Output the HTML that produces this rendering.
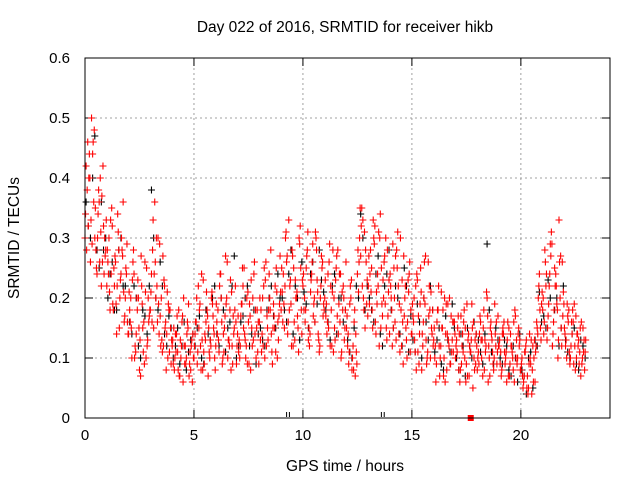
<!DOCTYPE html>
<html><head><meta charset="utf-8"><style>
body{margin:0;background:#fff}
svg{font-family:"Liberation Sans",sans-serif;display:block}
</style></head><body>
<svg id="chart" width="640" height="480" xmlns="http://www.w3.org/2000/svg">
<text x="345" y="32" font-size="15.5" text-anchor="middle">Day 022 of 2016, SRMTID for receiver hikb</text>
<text transform="translate(19,238) rotate(-90)" font-size="15.5" text-anchor="middle">SRMTID / TECUs</text>
<text x="345" y="471" font-size="15.5" text-anchor="middle">GPS time / hours</text>
<g id="grid"></g>
<g id="ticks"></g>
<g id="black"></g>
<g id="red"></g>
<rect x="85" y="58" width="525" height="360" fill="none" stroke="#000" stroke-width="1"/>
</svg>
<script>
const xTicks=[0,5,10,15,20];
const yTicks=[0,0.1,0.2,0.3,0.4,0.5,0.6];
const yTickLabels=["0","0.1","0.2","0.3","0.4","0.5","0.6"];
const redA=[30,38,44,50,36,28,34,40,26,30,22,30,24,18,26,34,20,28,16,24,14,20,26,12,18,8,22,16,10,20,18,28,36,22,14,20,12,16,10,18,12,8,14,18,10,6,12,16,9,13,10,16,22,12,8,14,18,11,20,15,12,18,24,9,15,20,13,8,17,22,14,10,19,25,12,16,8,20,14,18,16,11,22,26,13,18,9,15,21,17,18,24,30,14,22,28,16,20,11,25,22,16,28,12,24,19,30,14,20,26,20,14,26,18,11,23,28,16,21,13,15,9,20,12,7,24,30,35,18,26,22,28,15,32,19,12,25,20,30,17,24,12,20,28,14,18,9,22,16,26,14,20,8,17,25,12,19,10,22,15,13,6,18,10,15,20,8,12,17,11,10,15,6,12,18,9,14,11,5,13,8,14,10,18,12,6,15,11,19,9,12,7,14,10,16,9,11,6,13,15,8,5,11,7,14,4,10,12,20,15,18,28,13,22,31,16,24,10,20,26,15,10,18,12,16,8,14,11,9,13];
const redB=[42,32,26,44,30,24,36,22,32,28,26,18,32,22,14,28,24,36,20,16,18,10,24,14,20,7,15,26,12,17,24,15,20,30,17,11,22,14,18,9,9,14,11,7,16,12,10,19,8,14,14,9,18,24,11,16,7,13,19,10,16,11,20,14,27,10,18,12,15,9,11,17,22,13,9,19,15,24,10,16,13,20,10,17,24,14,19,11,16,27,21,15,26,33,19,12,23,17,29,14,18,25,13,21,29,16,23,11,27,19,17,24,12,21,15,27,19,10,22,18,12,19,8,16,11,21,27,33,15,23,19,25,30,14,22,34,17,27,13,23,20,15,27,31,11,23,17,13,21,18,17,11,23,14,8,20,13,26,10,18,10,16,12,21,7,14,19,9,13,16,13,8,17,11,15,7,12,19,10,14,11,16,7,13,20,10,14,8,12,17,9,14,11,6,15,12,8,17,10,13,10,7,13,5,9,12,6,15,24,19,14,22,17,29,12,25,19,33,15,21,12,17,9,14,19,10,13,7,15,11];
const redC=[34,46,40,29,48,25,38,31,42,27,28,21,35,25,19,31,23,27,17,29,21,15,28,11,23,13,19,9,25,16,21,33,26,16,29,13,23,8,19,15,13,10,17,7,12,20,9,15,11,6,12,20,15,8,23,13,17,10,21,14,19,13,24,10,17,26,12,21,14,16,17,12,25,14,20,9,23,13,18,11,20,14,25,12,18,28,15,22,10,19,25,19,31,16,23,27,13,21,30,18,24,18,31,14,26,20,28,13,22,17,23,16,29,12,20,25,14,24,18,15,17,11,23,8,14,28,35,22,31,19,27,21,33,16,24,30,19,26,15,21,22,29,16,25,19,12,27,15,23,11,19,13,24,9,21,16,27,11,18,14,15,9,22,12,18,6,14,20,11,16,12,17,8,14,10,19,7,13,16,9,10,17,13,8,21,12,16,9,14,11,13,8,16,11,7,14,10,18,9,12,9,6,12,4,10,8,13,16,22,13,20,26,15,24,29,18,22,13,27,17,14,19,11,16,9,17,12,15,10,8];
const redD=[28,40,33,46,35,30,26,37,24,33,24,33,19,27,22,15,30,21,25,14,16,23,10,20,15,27,11,21,13,18,16,24,30,19,12,27,15,21,11,13,15,11,8,13,17,9,14,7,12,10,16,11,19,13,9,21,15,12,17,8,14,22,16,11,19,13,23,9,18,12,13,19,15,10,21,17,12,26,15,9,18,12,23,15,20,11,17,25,13,21,16,22,27,18,12,25,20,15,32,23,20,27,15,23,17,31,21,12,25,18,19,15,22,28,13,17,24,11,20,26,14,22,10,18,9,26,32,20,28,17,24,18,29,21,31,15,23,19,28,14,18,25,13,22,30,16,20,10,24,14,16,22,11,19,14,26,9,17,21,12,12,18,7,15,10,19,13,9,16,14,11,14,9,16,6,13,11,15,8,12,9,13,15,11,17,7,13,10,16,12,11,15,9,13,7,12,16,10,14,8,7,11,5,9,13,6,11,14,18,21,16,24,19,27,14,22,18,26,12,19,13,16,10,18,12,14,9,16,11,13];
const blackA=[36,30,47,25,28,20,26,18,30,22,16,22,12,18,14,38,20,26,14,17,10,15,12,8,13,12,17,9,14,20,14,20,11,16,27,12,17,22,14,9,15,12,20,17,24,20,16,28,22,13,21,15,26,19,23,18,13,24,20,16,13,10,22,34,18,20,16,27,12,24,18,22,14,25,11,13,19,10,16,22,11,15,8,13,19,10,14,7,12,16,13,9,29,11,15,10,13,8,12,6,8,4,11,13,21,17,23,12,20,15,13,10,15,8,12];
const blackB=[32,40,28,36,30,24,18,28,22,16,14,20,10,17,22,30,18,22,12,15,12,9,16,11,14,15,10,18,13,22,12,18,15,22,10,16,20,12,18,14,13,18,22,15,20,18,24,14,20,26,19,24,16,28,21,16,22,14,20,18,11,15,20,30,22,18,24,14,22,28,15,20,12,22,17,11,16,20,13,18,13,9,17,11,15,8,12,15,10,14,11,14,18,9,13,9,12,7,10,14,7,10,5,12,16,15,20,18,12,22,11,14,9,13,10];
const X0=85,X1=610,Y0=418,Y1=58,XMAX=24.09,YMAX=0.6;
const sx=v=>X0+v/XMAX*(X1-X0);
const sy=v=>Y0-v/YMAX*(Y0-Y1);
const NS="http://www.w3.org/2000/svg";
function mk(t,a,p){const e=document.createElementNS(NS,t);for(const k in a)e.setAttribute(k,a[k]);p.appendChild(e);return e;}
const grid=document.getElementById('grid'),ticks=document.getElementById('ticks');
xTicks.forEach(t=>{const x=sx(t);
 if(t>0){const g=mk('line',{x1:x,x2:x,y1:Y1,y2:Y0,stroke:'#a0a0a0','stroke-dasharray':'2,3'},grid);
 
 }
 mk('line',{x1:x,x2:x,y1:Y0,y2:Y0-8,stroke:'#000'},ticks);
 mk('line',{x1:x,x2:x,y1:Y1,y2:Y1+8,stroke:'#000'},ticks);
 const l=mk('text',{x:x,y:Y0+22,'font-size':15,'text-anchor':'middle'},ticks);l.textContent=t;
 
 
});
yTicks.forEach((t,i)=>{const y=sy(t);
 if(t>0&&t<0.6){const g=mk('line',{x1:X0,x2:X1,y1:y,y2:y,stroke:'#a0a0a0','stroke-dasharray':'2,3'},grid);
 
 }
 mk('line',{x1:X0,x2:X0+8,y1:y,y2:y,stroke:'#000'},ticks);
 mk('line',{x1:X1,x2:X1-8,y1:y,y2:y,stroke:'#000'},ticks);
 const l=mk('text',{x:70,y:y+5,'font-size':15,'text-anchor':'end'},ticks);l.textContent=yTickLabels[i];
 
 
});
function plus(g,t,v,c){const x=sx(t),y=sy(v/100);
 const p=mk('path',{d:`M${x-3.5},${y}h7M${x},${y-3.5}v7`,stroke:c,'stroke-width':1.1,fill:'none'},g);
 
 }
const bg=document.getElementById('black'),rg=document.getElementById('red');
blackA.forEach((v,i)=>plus(bg,i*0.2+0.05,v,'#000'));
blackB.forEach((v,i)=>plus(bg,i*0.2+0.15,v,'#000'));
redA.forEach((v,i)=>plus(rg,i*0.1,v,'#f00'));
redB.forEach((v,i)=>plus(rg,i*0.1+0.05,v,'#f00'));
redC.forEach((v,i)=>plus(rg,i*0.1+0.025,v,'#f00'));
redD.forEach((v,i)=>plus(rg,i*0.1+0.075,v,'#f00'));
const m1=mk('path',{d:`M${sx(9.25)},417v-5M${sx(9.38)},417v-5M${sx(13.6)},417v-5M${sx(13.73)},417v-5`,stroke:'#000'},ticks);


const m2=mk('rect',{x:sx(17.7)-3,y:415,width:6,height:6,fill:'#f00'},ticks);


</script>
</body></html>
